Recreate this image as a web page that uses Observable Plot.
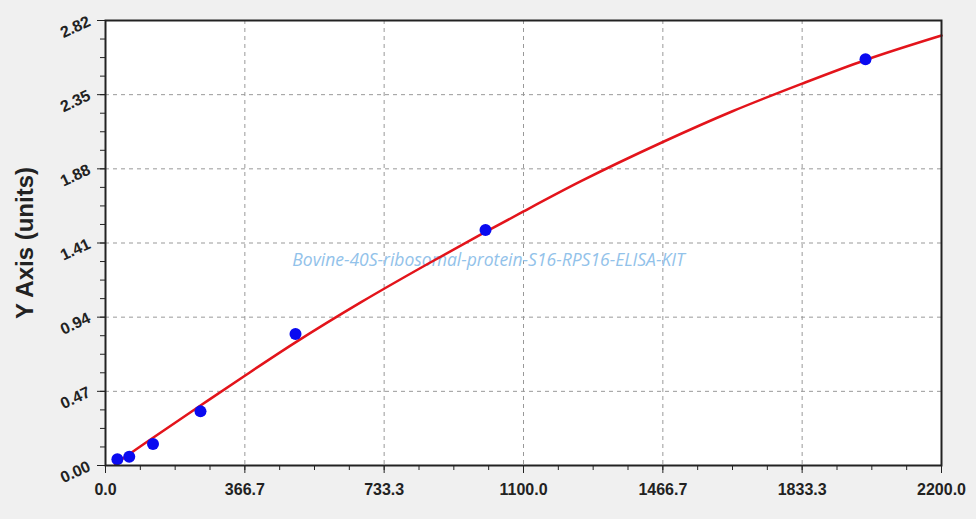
<!DOCTYPE html>
<html>
<head>
<meta charset="utf-8">
<script src="https://cdn.jsdelivr.net/npm/d3@7"></script>
<script src="https://cdn.jsdelivr.net/npm/@observablehq/plot@0.6"></script>
<style>
  html, body { margin: 0; padding: 0; background: #f0f0f0; }
  #chart { width: 976px; height: 519px; }
</style>
</head>
<body>
<div id="chart"></div>
<script>
// Standards (concentration) and measured OD
const stdConc = [31.25, 62.5, 125, 250, 500, 1000, 2000];
const stdOD   = [0.040, 0.055, 0.136, 0.343, 0.834, 1.493, 2.574];

// Fitted curve
const curveConc = [25, 100, 250, 366.7, 500, 672.7, 850, 1000, 1100, 1250, 1466.7, 1650, 1833.3, 2000, 2200];
const curveOD   = [0.01, 0.135, 0.38, 0.569, 0.78, 1.035, 1.28, 1.48, 1.61, 1.80, 2.05, 2.245, 2.42, 2.57, 2.725];

// Axis ticks
const xTicks = [0, 366.7, 733.3, 1100.0, 1466.7, 1833.3, 2200.0];
const yTicks = [0, 0.47, 0.94, 1.41, 1.88, 2.35, 2.82];
const xMinor = d3.range(0, 2200.001, 2200 / 24);
const yMinor = d3.range(0, 2.82001, 2.82 / 24);

const yTitle = "Y Axis (units)";
const watermark = "Bovine-40S-ribosomal-protein-S16-RPS16-ELISA-KIT";

const points = stdConc.map((c, i) => ({conc: c, od: stdOD[i]}));
const curve = curveConc.map((c, i) => ({conc: c, od: curveOD[i]}));

const chart = Plot.plot({
  width: 976,
  height: 519,
  marginLeft: 105,
  marginRight: 35,
  marginTop: 20,
  marginBottom: 54,
  style: {background: "transparent", fontFamily: "'Liberation Sans', Arial, sans-serif", color: "#222"},
  x: {domain: [0, 2200]},
  y: {domain: [0, 2.82]},
  marks: [
    Plot.frame({fill: "white"}),
    Plot.gridX(xTicks, {stroke: "#999", strokeOpacity: 1, strokeDasharray: "4,4", strokeWidth: 1}),
    Plot.gridY(yTicks, {stroke: "#999", strokeOpacity: 1, strokeDasharray: "4,4", strokeWidth: 1}),
    Plot.text([watermark], {frameAnchor: "middle", dx: -35, dy: 17, fill: "#92c2ea", fontStyle: "italic", fontSize: 17.5, fontFamily: "'Open Sans', 'DejaVu Sans', sans-serif"}),
    Plot.line(curve, {x: "conc", y: "od", stroke: "#e3141b", strokeWidth: 2.5, curve: "monotone-x"}),
    Plot.dot(points, {x: "conc", y: "od", r: 6, fill: "#0a0af0", stroke: "none"}),
    Plot.frame({stroke: "#222", strokeWidth: 2}),
    Plot.axisX(xMinor, {tickSize: 5, tickFormat: () => "", label: null, stroke: "#222"}),
    Plot.axisX(xTicks, {tickSize: 8, tickPadding: 10, tickFormat: d => d.toFixed(1), fontSize: 16, fontWeight: "bold", label: null, stroke: "#222"}),
    Plot.axisY(yMinor, {tickSize: 5, tickFormat: () => "", label: null, stroke: "#222"}),
    Plot.axisY(yTicks, {tickSize: 8, tickPadding: 8, tickRotate: -25, tickFormat: d => d.toFixed(2), fontSize: 16, fontWeight: "bold", label: null, stroke: "#222"}),
    Plot.text([yTitle], {frameAnchor: "left", textAnchor: "middle", rotate: -90, dx: -80, fontSize: 24, fontWeight: "bold", fill: "#222"})
  ]
});
document.getElementById("chart").appendChild(chart);
</script>
</body>
</html>
